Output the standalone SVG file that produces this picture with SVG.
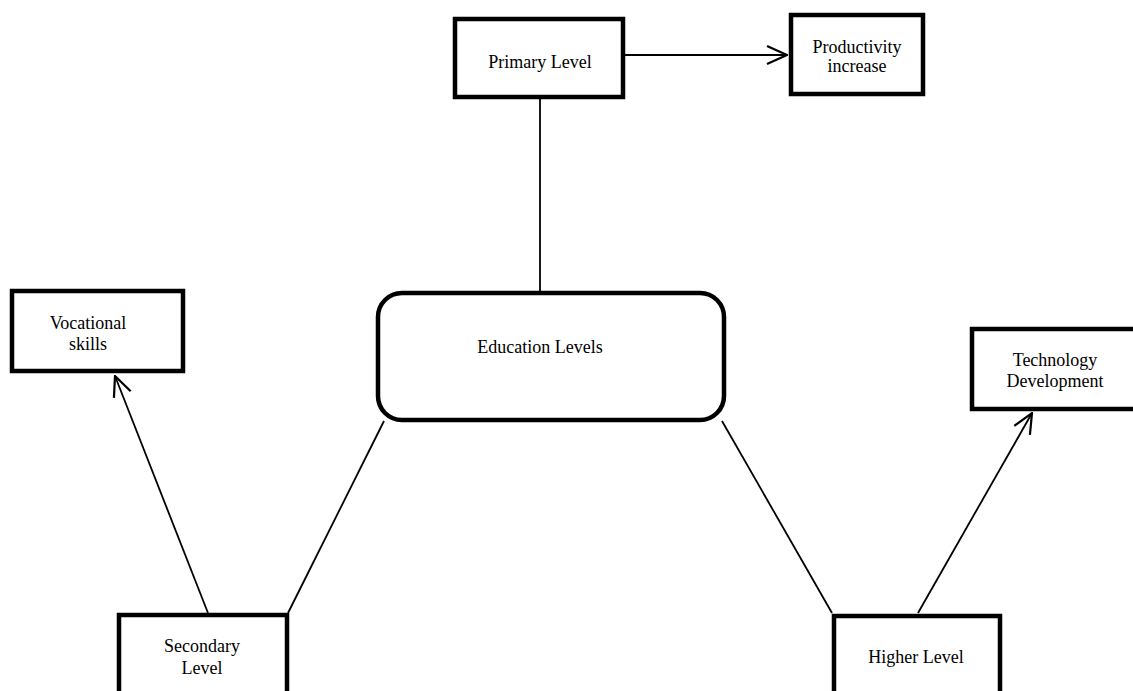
<svg xmlns="http://www.w3.org/2000/svg" width="1133" height="691" viewBox="0 0 1133 691">
<style>
.box{fill:#fff;stroke:#000;stroke-width:4.5}
.t{font-family:"Liberation Serif","Times New Roman",serif;font-size:18px;fill:#000;text-anchor:middle}
.c{stroke:#000;stroke-width:1.8;fill:none}
</style>
<defs>
<marker id="ah" viewBox="0 0 22 22" refX="21" refY="11" markerWidth="22" markerHeight="22" markerUnits="userSpaceOnUse" orient="auto">
<path d="M1,2 L21,11 L1,20" fill="none" stroke="#000" stroke-width="2.2"/>
</marker>
</defs>
<rect width="1133" height="691" fill="#fff"/>
<g id="connectors">
<line class="c" x1="625" y1="55" x2="787" y2="55" marker-end="url(#ah)"/>
<line class="c" x1="540" y1="98" x2="540" y2="292"/>
<line class="c" x1="384" y1="421" x2="288" y2="613"/>
<line class="c" x1="722" y1="421" x2="832" y2="613"/>
<line class="c" x1="208" y1="613" x2="115" y2="376" marker-end="url(#ah)"/>
<line class="c" x1="918" y1="613" x2="1032" y2="413" marker-end="url(#ah)"/>
</g>
<g id="primary">
<rect class="box" x="455" y="19" width="168" height="78"/>
<text class="t" x="540" y="68">Primary Level</text>
</g>
<g id="productivity">
<rect class="box" x="791" y="15" width="132" height="79"/>
<text class="t" x="857" y="53">Productivity</text>
<text class="t" x="857" y="72">increase</text>
</g>
<g id="education">
<rect class="box" x="378" y="293" width="346" height="127" rx="24" ry="24"/>
<text class="t" x="540" y="353">Education Levels</text>
</g>
<g id="vocational">
<rect class="box" x="12" y="291" width="171" height="80"/>
<text class="t" x="88" y="329">Vocational</text>
<text class="t" x="88" y="350">skills</text>
</g>
<g id="technology">
<rect class="box" x="972" y="329" width="166" height="80"/>
<text class="t" x="1055" y="366">Technology</text>
<text class="t" x="1055" y="387">Development</text>
</g>
<g id="secondary">
<rect class="box" x="119" y="615" width="168" height="90"/>
<text class="t" x="202" y="652">Secondary</text>
<text class="t" x="202" y="674">Level</text>
</g>
<g id="higher">
<rect class="box" x="834" y="616" width="166" height="90"/>
<text class="t" x="916" y="663">Higher Level</text>
</g>
</svg>
